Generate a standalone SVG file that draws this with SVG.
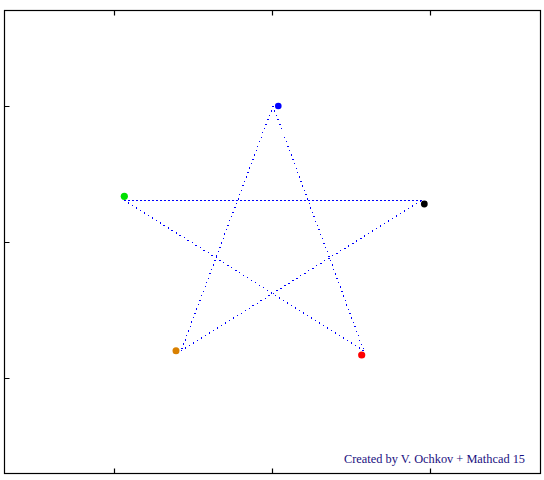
<svg xmlns="http://www.w3.org/2000/svg" width="544" height="480" viewBox="0 0 544 480">
<style>
.frame{fill:none;stroke:#000;stroke-width:1.2}
.tick{stroke:#000;stroke-width:1.2}
.edge{stroke:#0000ff;stroke-width:1.2;fill:none;stroke-dasharray:1.2 3.5;shape-rendering:crispEdges}
.edgeh{stroke:#0000ff;stroke-width:1;fill:none;stroke-dasharray:2 2;shape-rendering:crispEdges}
.lbl{font-family:"Liberation Serif",serif;font-size:12.5px;fill:#1a1080}
</style>
<rect width="544" height="480" fill="#fff"/>
<g id="frame">
<rect class="frame" x="4.5" y="10.5" width="536" height="463"/>
<path class="tick" d="M114.5 10.5v5M272.5 10.5v5M430.5 10.5v5M114.5 473.5v-5M272.5 473.5v-5M430.5 473.5v-5M4.5 106.5h5M4.5 242.5h5M4.5 378.5h5"/>
</g>
<g id="connectors">
<path class="edge" d="M273 106L181 351"/>
<path class="edge" d="M273 106L364 351"/>
<path class="edgeh" d="M124 200.5H422"/>
<path class="edge" d="M124 200L364 351"/>
<path class="edge" d="M181 351L422 200"/>
</g>
<g id="p-blue"><circle cx="278.3" cy="106" r="3.3" fill="#0000ff"/></g>
<g id="p-green"><circle cx="124.3" cy="196.3" r="3.6" fill="#00e000"/></g>
<g id="p-black"><circle cx="424.3" cy="204" r="3.4" fill="#000"/></g>
<g id="p-orange"><circle cx="176" cy="350.7" r="3.5" fill="#d98000"/></g>
<g id="p-red"><circle cx="361.7" cy="355" r="3.6" fill="#ff0000"/></g>
<g id="credit"><text class="lbl" x="344" y="463" textLength="181" lengthAdjust="spacingAndGlyphs">Created by V. Ochkov + Mathcad 15</text></g>
</svg>
